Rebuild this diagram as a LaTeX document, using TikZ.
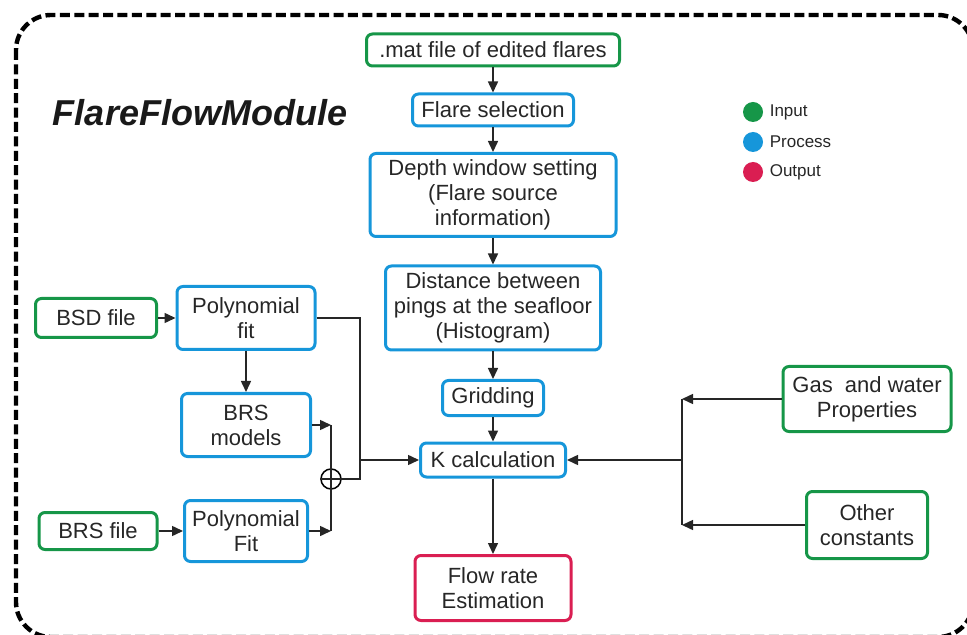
\documentclass[tikz,border=0pt]{standalone}
\usepackage{fontspec}
\setmainfont{Liberation Sans}
\usetikzlibrary{arrows.meta,positioning}

\definecolor{inGreen}{RGB}{22,150,72}
\definecolor{procBlue}{RGB}{22,150,218}
\definecolor{outRed}{RGB}{218,30,82}

\begin{document}
\begin{tikzpicture}[
  x=0.5pt, y=-0.5pt,
  box/.style={draw, rounded corners=3pt, line width=1.5pt, align=center, inner sep=0pt, text=black!85, font=\fontsize{11}{12.5}\selectfont},
  inbox/.style={box, draw=inGreen},
  procbox/.style={box, draw=procBlue},
  outbox/.style={box, draw=outRed},
  link/.style={line width=0.75pt, black!85},
  dot/.style={circle, inner sep=0pt, minimum size=10pt},
  keytext/.style={inner sep=1pt, text=black!85, font=\fontsize{8.5}{10}\selectfont},
  >={Triangle[length=5.5pt,width=5pt]}
]

\useasboundingbox (0,0) rectangle (967,635);
\clip (0,0) rectangle (967,635);
\draw[line width=2.2pt, dash pattern=on 5pt off 2.2pt, rounded corners=17.5pt] (16,15) rectangle (973,637);

\node[inner sep=0pt, text=black!90, font=\fontsize{18}{20}\selectfont\bfseries\itshape] (moduletitle) at (200,113) {FlareFlowModule};

% main chain
\node[inbox, minimum width=126.5pt, minimum height=16pt]   (matfile)   at (493,50)  {.mat file of edited flares};
\node[procbox, minimum width=80.5pt, minimum height=16pt]  (flaresel)  at (493,110) {Flare selection};
\node[procbox, minimum width=123pt, minimum height=41.5pt] (depthwin)  at (493,195) {Depth window setting\\(Flare source\\information)};
\node[procbox, minimum width=107.5pt, minimum height=42pt] (pingdist)  at (493,308) {Distance between\\pings at the seafloor\\(Histogram)};
\node[procbox, minimum width=50.5pt, minimum height=17.5pt] (gridding) at (493,398) {Gridding};
\node[procbox, minimum width=72.5pt, minimum height=17pt]  (kcalc)     at (493,460) {K calculation};
\node[outbox, minimum width=78pt, minimum height=32.5pt]   (flowrate)  at (493,588) {Flow rate\\Estimation};

\draw[link,->] (matfile) -- (flaresel);
\draw[link,->] (flaresel) -- (depthwin);
\draw[link,->] (depthwin) -- (pingdist);
\draw[link,->] (pingdist) -- (gridding);
\draw[link,->] (gridding) -- (kcalc);
\draw[link,->] (kcalc) -- (flowrate);

% bubble size side
\node[inbox, minimum width=60.5pt, minimum height=19.5pt]  (bsdfile)   at (96,318)  {BSD file};
\node[procbox, minimum width=69pt, minimum height=31.5pt]  (polyfitA)  at (246,318) {Polynomial\\fit};
\node[procbox, minimum width=64.5pt, minimum height=31.5pt] (brsmodels) at (246,425) {BRS\\models};
\node[inbox, minimum width=59pt, minimum height=18.5pt]    (brsfile)   at (98,531)  {BRS file};
\node[procbox, minimum width=61.5pt, minimum height=30.5pt] (polyfitB) at (246,531) {Polynomial\\Fit};
\node[draw, circle, line width=0.75pt, minimum size=10pt, inner sep=0pt] (combine) at (331,479) {};
\coordinate (leftjoin) at (360,460);

\draw[link,->] (bsdfile) -- (polyfitA);
\draw[link,->] (polyfitA) -- (brsmodels);
\draw[link,->] (brsfile) -- (polyfitB);
\draw[link,->] (brsmodels.east) -- (brsmodels.east -| combine);
\draw[link,->] (polyfitB.east) -- (polyfitB.east -| combine);
\draw[link] (brsmodels.east -| combine) -- (polyfitB.east -| combine);
\draw[link] (combine.west) -- (combine.east);
\draw[link] (polyfitA.east) -| (combine.east -| leftjoin) -- (combine.east);
\draw[link,->] (leftjoin) -- (kcalc.west);

% constants side
\node[inbox, minimum width=84pt, minimum height=32.5pt]   (gasprops)   at (867,399) {Gas\ \ and water\\Properties};
\node[inbox, minimum width=60.5pt, minimum height=33.5pt] (otherconst) at (867,525) {Other\\constants};
\coordinate (rightjoin) at (682,460);

\draw[link,->] (gasprops.west) -- (gasprops.west -| rightjoin);
\draw[link,->] (otherconst.west) -- (otherconst.west -| rightjoin);
\draw[link] (gasprops.west -| rightjoin) -- (otherconst.west -| rightjoin);
\draw[link,->] (rightjoin) -- (kcalc.east);

% legend
\node[dot, fill=inGreen]  (keyin)   at (753,112) {};
\node[dot, fill=procBlue] (keyproc) at (753,142) {};
\node[dot, fill=outRed]   (keyout)  at (753,172) {};
\node[keytext, right=2pt of keyin]   (keyintext)   {Input};
\node[keytext, right=2pt of keyproc] (keyproctext) {Process};
\node[keytext, right=2pt of keyout]  (keyouttext)  {Output};

\end{tikzpicture}
\end{document}
